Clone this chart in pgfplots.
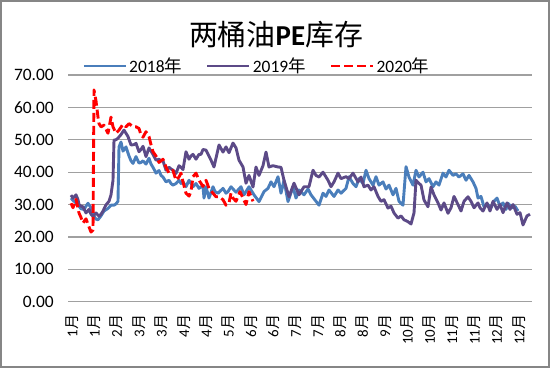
\documentclass[border=0pt]{standalone}
\usepackage{pgfplots}
\pgfplotsset{compat=1.18}
\usepackage{fontspec}
\setmainfont{Carlito}
\newfontfamily\cjk{Noto Sans CJK SC}
\definecolor{c18}{RGB}{74,126,187}
\definecolor{c19}{RGB}{92,74,135}
\definecolor{c20}{RGB}{255,0,0}
\newcommand{\yue}{{\cjk 月}}
\newcommand{\nian}{{\cjk 年}}
\begin{document}
\begin{tikzpicture}
\useasboundingbox (0,0) rectangle (550bp,368bp);
\draw[color={rgb,255:red,134;green,134;blue,134}, line width=1.5bp] (1bp,1bp) rectangle (549bp,367bp);
\node at (276bp,333bp) {\fontsize{29}{31}\selectfont{\cjk 两桶油}\textbf{PE}{\cjk 库存}};
\begin{axis}[
  at={(68bp,66.3bp)}, anchor=south west,
  scale only axis, width=464bp, height=226.7bp,
  xmin=68, xmax=532, ymin=0, ymax=70,
  ytick={0,10,20,30,40,50,60,70},
  yticklabels={0.00,10.00,20.00,30.00,40.00,50.00,60.00,70.00},
  xtick={72,94.35,116.7,139.05,161.4,183.75,206.1,228.45,250.8,273.15,295.5,317.85,340.2,362.55,384.9,407.25,429.6,451.95,474.3,496.65,519},
  xticklabels={1\yue,1\yue,2\yue,3\yue,3\yue,4\yue,4\yue,5\yue,6\yue,6\yue,7\yue,7\yue,8\yue,8\yue,9\yue,10\yue,10\yue,11\yue,11\yue,12\yue,12\yue},
  major tick length=0pt,
  axis line style={draw=none},
  ymajorgrids,
  grid style={color={rgb,255:red,160;green,160;blue,160}, line width=1.3bp},
  yticklabel style={font=\fontsize{17.5}{17.5}\selectfont, inner sep=0pt, xshift=-14bp},
  xticklabel style={font=\fontsize{15}{15}\selectfont, yshift=-13bp, rotate=90, anchor=east, inner sep=0pt},
  legend columns=3,
  legend style={draw=none, fill=none, at={(0.407,1)}, anchor=center, yshift=9bp,
    font=\fontsize{17.5}{17.5}\selectfont, inner sep=0pt,
    /tikz/every even column/.append style={column sep=22bp}},
  legend image code/.code={\draw[#1] (0bp,0bp) -- (42bp,0bp);},
  every axis plot/.append style={line width=2.9bp, line join=round},
]
\addplot[c18] coordinates {
(71,32)(73,31.3)(76,30.5)(79,29.5)(81,28.7)(84,28.5)(86,29.5)(88,30.4)(91,29)(94,26.4)(96,25.5)(98,25.3)(101,26.5)(104,28)(108,28.8)(111,29.8)(114,29.8)(116,30.2)(118,31)(119,47.8)(121,49.3)(123,46.5)(126,47.8)(129,45)(131,43.5)(133,42.7)(136,44.8)(139,42.8)(141,43)(143,43.5)(146,42.5)(149,44.3)(151,42.5)(153,41.5)(156,39.7)(159,40.5)(161,39)(163,38.5)(166,37)(169,37.5)(171,36.5)(173,36)(176,36.5)(179,37.5)(181,36.5)(183,37)(186,35.5)(189,37.5)(191,36.5)(193,35.5)(196,36.5)(199,35)(201,35.5)(203,35.5)(204,32)(206,35.5)(209,32)(213,35.5)(215,34)(218,33.5)(223,35)(226,33.5)(228,34)(231,35.5)(236,33.8)(241,35.5)(244,33)(249,35.5)(254,33)(259,30.9)(264,34)(268,35)(271,37)(274,35.5)(278,38.6)(281,33.5)(284,37.5)(288,30.9)(293,35.5)(296,32)(299,34.5)(304,33)(308,34.8)(311,33)(316,31)(319,29.8)(323,33.5)(326,32.5)(329,34.5)(334,32.5)(338,34.5)(341,33.5)(346,35)(349,38.6)(353,36.5)(356,35.5)(359,38)(363,36.5)(366,40.6)(369,38)(373,36)(376,38.6)(379,36)(383,37)(386,34.8)(389,36)(393,33)(396,35)(399,31)(403,29.8)(406,41.7)(409,38.5)(413,36)(416,40.6)(419,38.5)(423,40)(426,37)(429,38)(433,35.5)(436,37)(439,36)(443,39.7)(446,38.5)(449,40.6)(453,39)(456,39.5)(459,38.5)(463,39.5)(466,37.5)(469,39)(473,37)(476,35)(478,32)(481,32.5)(484,29.3)(488,30)(491,29)(494,31)(497,32)(500,29.5)(503,30.5)(506,28.5)(508,30.4)(512,29)(515,29.5)(518,28)
};
\addlegendentry{2018\nian}
\addplot[c19] coordinates {
(71,32.9)(73,32)(76,33)(78,31.5)(79,30)(81,29.5)(83,29.3)(86,27.4)(89,28.5)(91,27)(93,26.4)(96,27.4)(99,26.4)(101,27)(103,28)(106,29.9)(109,31)(111,33)(113,37.5)(114,49.9)(116,50)(118,50.5)(121,51.6)(124,53)(126,52)(128,51)(131,48.4)(134,48.5)(136,48.9)(139,46.3)(141,47)(143,48)(146,44.8)(149,47.5)(151,46.5)(153,45.5)(156,43.7)(159,44)(161,43.5)(163,43.5)(166,40.6)(169,41.5)(171,41)(173,40.6)(176,39.6)(179,42)(181,41.5)(183,40.8)(186,46.3)(189,44)(191,45)(193,45.5)(196,44)(199,45.5)(201,45.5)(203,47)(206,46.8)(211,43.7)(214,41.6)(219,48.4)(223,46.2)(226,47.8)(229,46)(233,49)(236,47.5)(239,43.7)(243,41.6)(246,36.6)(249,39)(253,35.4)(256,41.6)(259,39)(263,42)(266,46.2)(269,41.6)(273,42)(278,41.6)(281,41.5)(284,37.5)(289,32.4)(294,36.6)(299,33)(304,35.5)(309,35.5)(313,40.6)(316,39)(319,38.5)(323,40)(328,37.5)(331,35.5)(334,37)(338,39.7)(341,38)(346,38.6)(349,38)(353,39.7)(358,37)(361,38.5)(364,35.5)(368,36)(371,34.5)(374,35.5)(378,32.5)(381,31)(384,31.5)(388,28.9)(391,29.5)(394,27.4)(398,25.8)(401,26.5)(404,25.3)(408,24.7)(411,24)(414,27.4)(416,37.5)(419,36.5)(421,36)(424,31.4)(428,29.3)(431,35.4)(434,33)(438,30.5)(441,28.3)(444,30.5)(448,27.3)(451,29)(454,32.5)(458,30)(461,28)(464,31)(468,32.4)(471,31)(474,29)(478,30.5)(480,29)(483,28)(487,30.5)(490,28)(493,31)(497,28.5)(500,30)(503,27.5)(507,30.5)(510,28.5)(513,30)(517,27)(520,27.5)(523,23.7)(527,26.5)(530,27)
};
\addlegendentry{2019\nian}
\addplot[c20, dash pattern=on 9bp off 4bp] coordinates {
(71,30.4)(73,29)(76,31.6)(79,27.4)(81,26)(83,24.3)(86,25.6)(89,23.1)(91,21.5)(93,22.1)(94,65.4)(96,62)(98,57)(99,55)(101,54)(104,54.5)(108,52)(111,57)(113,54)(116,52)(119,53)(123,54.8)(126,54)(129,55)(133,54)(136,54)(139,53.5)(141,51.5)(143,50.8)(146,52.5)(149,51)(151,48.5)(153,46.3)(156,45)(159,43)(163,44)(166,41.6)(169,39.7)(173,40.5)(176,37.5)(179,38.5)(181,39.7)(183,37)(186,33.5)(189,32.6)(191,34)(193,38.6)(196,39.7)(199,37.5)(203,35.6)(206,37.5)(209,35)(213,33.5)(216,32.4)(219,32.4)(223,31.5)(226,29.8)(229,30.5)(231,33.5)(233,32)(236,31)(238,32.5)(240,34)(243,32)(246,30)(249,34)(251,32.5)(253,31)
};
\addlegendentry{2020\nian}
\end{axis}
\end{tikzpicture}
\end{document}
